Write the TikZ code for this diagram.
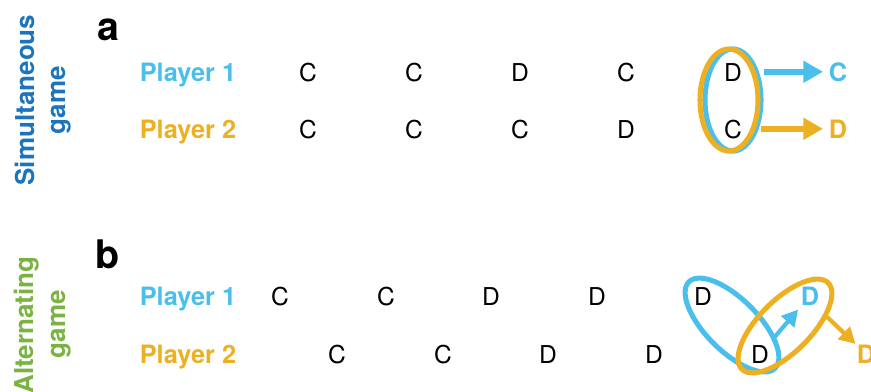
\documentclass[tikz,border=0pt]{standalone}
\usepackage{fontspec}
\setmainfont{TeX Gyre Heros}
\usetikzlibrary{shapes.geometric,arrows.meta}
\definecolor{pone}{HTML}{4BBFEC}
\definecolor{ptwo}{HTML}{ECB022}
\definecolor{simblue}{HTML}{1C75BC}
\definecolor{altgreen}{HTML}{7AB342}

\begin{document}
\begin{tikzpicture}[x=0.025cm,y=-0.025cm,
		move/.style={font=\fontsize{17.5}{20}\selectfont, inner sep=0pt, anchor=base},
		panel/.style={font=\fontsize{28}{30}\selectfont\bfseries, inner sep=0pt},
		player/.style={font=\fontsize{18}{20}\selectfont\bfseries, inner sep=0pt, anchor=base},
		gamename/.style={font=\fontsize{18.5}{20}\selectfont\bfseries, inner sep=0pt, rotate=90},
		ring/.style={ellipse, draw, line width=3.6pt, inner sep=0pt},
		choice/.style={line width=3.9pt, -{Triangle[length=14pt,width=15pt]}},
		reply/.style={line width=3pt, -{Triangle[length=11.5pt,width=12pt]}}]
		\useasboundingbox (0,0) rectangle (871,391);

		% simultaneous game
		\node[gamename, text=simblue] (sim1) at (25,100) {Simultaneous};
		\node[gamename, text=simblue] (sim2) at (61,100) {game};
		\node[panel] (pa) at (108,30) {a};
		\node[player, text=pone] (a1) at (188,81) {Player 1};
		\node[player, text=ptwo] (a2) at (188,138) {Player 2};

		\node[move] (a11) at (308,81) {C};
		\node[move] (a12) at (414,81) {C};
		\node[move] (a13) at (520,81) {D};
		\node[move] (a14) at (626,81) {C};
		\node[move] (a15) at (733,81) {D};
		\node[move] (a21) at (308,138) {C};
		\node[move] (a22) at (414,138) {C};
		\node[move] (a23) at (520,138) {C};
		\node[move] (a24) at (626,138) {D};
		\node[move] (a25) at (733,138) {C};

		\node[ring, pone, minimum width=1.4cm, minimum height=2.55cm] (ringa1) at (733,100) {};
		\node[ring, ptwo, minimum width=1.45cm, minimum height=2.55cm] (ringa2) at (729,100) {};

		\node[player, text=pone] (a1out) at (838,81) {C};
		\node[player, text=ptwo] (a2out) at (838,138) {D};
		\draw[choice, pone, shorten >=4pt] (ringa1.east |- a1out) -- (a1out.west);
		\draw[choice, ptwo, shorten >=4pt] (ringa2.east |- a2out) -- (a2out.west);

		% alternating game
		\node[gamename, text=altgreen] (alt1) at (27,325) {Alternating};
		\node[gamename, text=altgreen] (alt2) at (61,324) {game};
		\node[panel] (pb) at (108,254) {b};
		\node[player, text=pone] (b1) at (188,305) {Player 1};
		\node[player, text=ptwo] (b2) at (188,363) {Player 2};

		\node[move] (b11) at (280,305) {C};
		\node[move] (b12) at (386,305) {C};
		\node[move] (b13) at (491,305) {D};
		\node[move] (b14) at (597,305) {D};
		\node[move] (b15) at (703,305) {D};
		\node[player, text=pone] (b16) at (810,305) {D};
		\node[move] (b21) at (337,363) {C};
		\node[move] (b22) at (443,363) {C};
		\node[move] (b23) at (548,363) {D};
		\node[move] (b24) at (654,363) {D};
		\node[move] (b25) at (760,363) {D};

		\node[ring, pone, minimum width=3.05cm, minimum height=1.3cm, rotate=-45] (ringb1) at (732,325) {};
		\node[ring, ptwo, minimum width=3.05cm, minimum height=1.3cm, rotate=45] (ringb2) at (785,326) {};

		\node[player, text=ptwo] (b2out) at (866,363) {D};
		\draw[reply, pone, shorten <=6pt, shorten >=4pt] (b25) -- (b16);
		\draw[reply, ptwo, shorten >=1pt] (ringb2.-33) -- (b2out);
	\end{tikzpicture}
\end{document}
